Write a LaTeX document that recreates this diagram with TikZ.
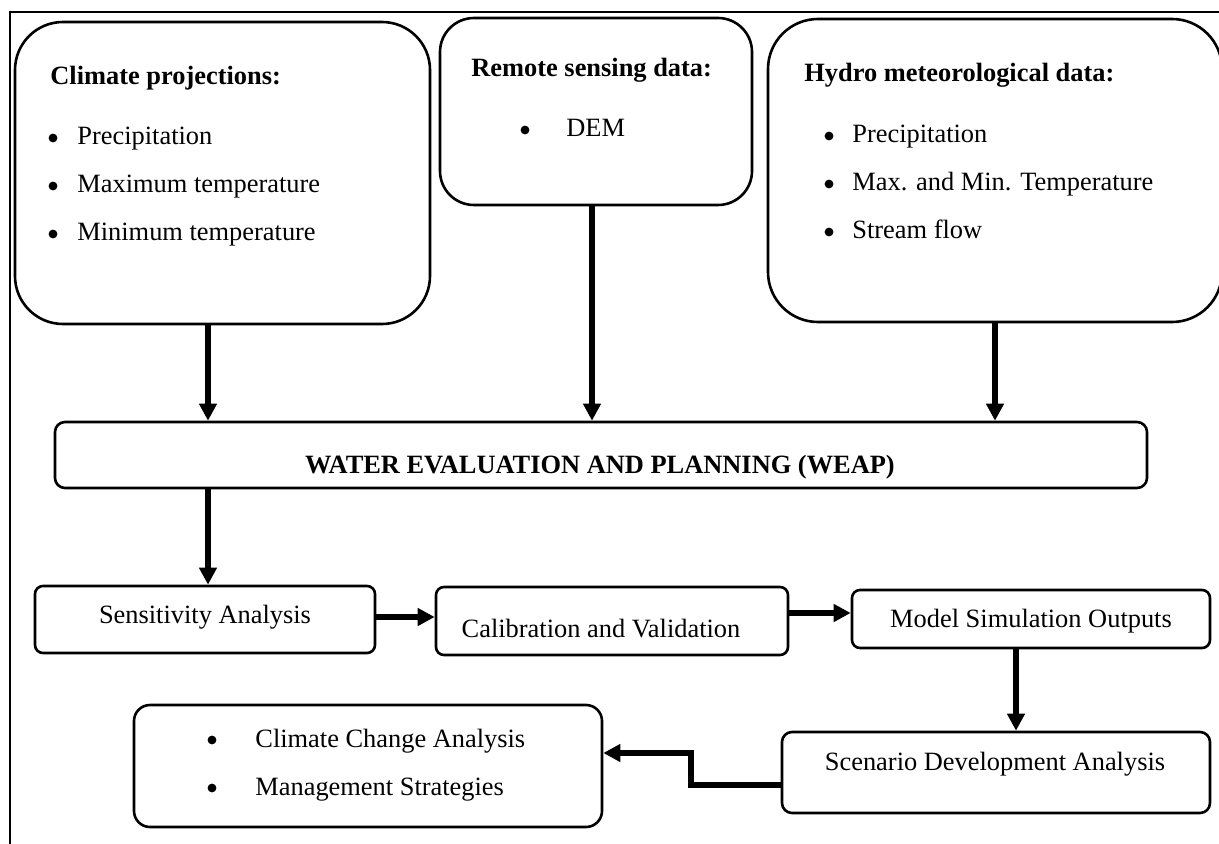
\documentclass[tikz,border=0pt]{standalone}
\usepackage{fontspec}
\setmainfont{Liberation Serif}
\usetikzlibrary{arrows.meta}
\begin{document}
\begin{tikzpicture}[x=0.5pt,y=-0.5pt,
  font=\fontsize{13.2}{16}\selectfont,
  bigbox/.style={draw, line width=1.3pt, inner sep=0pt},
  txt/.style={anchor=base west, inner sep=0pt},
  ctxt/.style={anchor=base, inner sep=0pt},
  btxt/.style={anchor=base west, inner sep=0pt, font=\fontsize{13.2}{16}\selectfont\bfseries},
  bul/.style={circle, fill, inner sep=0pt, minimum size=4.4pt},
  arr/.style={line width=2.6pt, line join=miter, -{Triangle[length=8.5pt,width=8.5pt]}},
]
\useasboundingbox (0,0) rectangle (1219,844);
% frame
\coordinate (fr1) at (1219,12);
\coordinate (fr2) at (10,12);
\coordinate (fr3) at (10,844);
\draw[line width=1pt] (fr1) -- (fr2) -- (fr3);

% top boxes
\node[bigbox, rounded corners=24pt, minimum width=207.5pt, minimum height=151pt] (b1) at (222.5,173) {};
\node[bigbox, rounded corners=17pt, minimum width=156pt, minimum height=93.5pt] (b2) at (596,111.5) {};
\node[bigbox, rounded corners=25pt, minimum width=227pt, minimum height=151.5pt] (b3) at (995,170.5) {};

\node[btxt] (t1) at (50,85) {Climate projections:};
\node[bul] (t1a) at (53,138) {};
\node[txt] (t1b) at (77,145) {Precipitation};
\node[bul] (t1c) at (53,186) {};
\node[txt] (t1d) at (77,193) {Maximum temperature};
\node[bul] (t1e) at (53,234) {};
\node[txt] (t1f) at (77,241) {Minimum temperature};

\node[btxt] (t2) at (471,77) {Remote sensing data:};
\node[bul] (t2a) at (525,130) {};
\node[txt] (t2b) at (566,137) {DEM};

\node[btxt] (t3) at (804,82) {Hydro meteorological data:};
\node[bul] (t3a) at (829,136) {};
\node[txt] (t3b) at (852,143) {Precipitation};
\node[bul] (t3c) at (829,184) {};
\node[txt] (t3d) at (852,191) {Max. and Min. Temperature};
\node[bul] (t3e) at (829,232) {};
\node[txt] (t3f) at (852,239) {Stream flow};

% WEAP
\node[bigbox, rounded corners=5pt, minimum width=546pt, minimum height=33pt] (weap) at (601,455) {};
\node[ctxt, font=\fontsize{13.2}{16}\selectfont\bfseries] (tw) at (600,473) {WATER EVALUATION AND PLANNING (WEAP)};

% lower boxes
\node[bigbox, rounded corners=4pt, minimum width=170pt, minimum height=33.5pt] (sens) at (205,619.5) {};
\node[ctxt] (ts) at (205,623) {Sensitivity Analysis};
\node[bigbox, rounded corners=4pt, minimum width=176pt, minimum height=34pt] (cal) at (612,621) {};
\node[ctxt] (tc) at (601,637) {Calibration and Validation};
\node[bigbox, rounded corners=4pt, minimum width=179pt, minimum height=29pt] (model) at (1031,619) {};
\node[ctxt] (tm) at (1031,627) {Model Simulation Outputs};
\node[bigbox, rounded corners=5pt, minimum width=214pt, minimum height=40.5pt] (scen) at (996,772.5) {};
\node[ctxt] (tsc) at (995,770) {Scenario Development Analysis};
\node[bigbox, rounded corners=8pt, minimum width=234pt, minimum height=61pt] (fin) at (368,766) {};
\node[bul] (tf1) at (212,740) {};
\node[txt] (tf2) at (255,747) {Climate Change Analysis};
\node[bul] (tf3) at (212,788) {};
\node[txt] (tf4) at (255,795) {Management Strategies};

% arrows
\coordinate (x1) at (208,0);
\coordinate (x2) at (592,0);
\coordinate (x3) at (995,0);
\coordinate (x4) at (1016,0);
\coordinate (y1) at (0,617);
\coordinate (y2) at (0,613);
\coordinate (e1) at (691,785);
\coordinate (e2) at (691,753);
\draw[arr] (b1.south -| x1) -- (weap.north -| x1);
\draw[arr] (b2.south -| x2) -- (weap.north -| x2);
\draw[arr] (b3.south -| x3) -- (weap.north -| x3);
\draw[arr] (weap.south -| x1) -- (sens.north -| x1);
\draw[arr] (sens.east |- y1) -- (cal.west |- y1);
\draw[arr] (cal.east |- y2) -- (model.west |- y2);
\draw[arr] (model.south -| x4) -- (scen.north -| x4);
\draw[arr] (scen.west |- e1) -- (e1) -- (e2) -- (fin.east |- e2);
\end{tikzpicture}
\end{document}
